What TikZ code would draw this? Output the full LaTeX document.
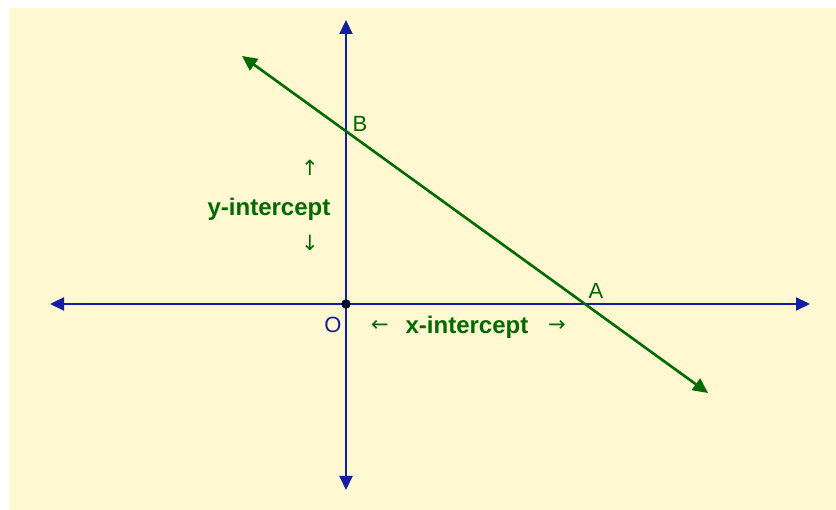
\documentclass[tikz,border=0pt]{standalone}
\usepackage{xcolor}
\usepackage{tikz}
\usepackage{fontspec}
\setmainfont{Liberation Sans}
\newfontfamily\arrowfont{DejaVu Sans}
\usetikzlibrary{arrows.meta}
\definecolor{paperYellow}{RGB}{255, 248, 208}
\definecolor{axisBlue}{RGB}{20, 30, 160}
\definecolor{lineGreen}{RGB}{0, 105, 0}

\begin{document}
\begin{tikzpicture}[x=1pt, y=1pt,
    axis/.style={axisBlue, line width=2.2pt, {Triangle[length=14pt,width=13pt]}-{Triangle[length=14pt,width=13pt]}},
    slant/.style={lineGreen, line width=2.6pt, {Triangle[length=15pt,width=14pt]}-{Triangle[length=15pt,width=14pt]}},
    ptlabel/.style={font=\fontsize{22}{24}\selectfont},
    intlabel/.style={lineGreen, font=\fontsize{24}{27}\selectfont\bfseries},
    tick/.style={lineGreen, font=\fontsize{21}{23}\selectfont\arrowfont}]
            \useasboundingbox (0,0) rectangle (836,510);
            \fill[paperYellow] (9,0) rectangle (836,502);

            % Axes
            \coordinate (xl) at (50,206);
            \coordinate (xr) at (810,206);
            \coordinate (yt) at (346,490);
            \coordinate (yb) at (346,20);
            \draw[axis] (xl) -- (xr);
            \draw[axis] (yb) -- (yt);

            % Origin
            \coordinate (O) at (346,206);
            \filldraw[black!70!axisBlue] (O) circle (4.5pt);
            \node[ptlabel, axisBlue] (Olab) at (333,185) {O};

            % Line
            \coordinate (p) at (242,454);
            \coordinate (q) at (708,117);
            \draw[slant] (p) -- (q);

            % Intercepts
            \node[ptlabel, lineGreen] (Blab) at (360,386) {B};
            \node[ptlabel, lineGreen] (Alab) at (596,219) {A};

            \node[intlabel] (xint) at (467,183) {x-intercept};
            \node[tick] (xlarr) at (380,184) {←};
            \node[tick] (xrarr) at (557,184) {→};

            \node[intlabel] (yint) at (269,301) {y-intercept};
            \node[tick] (yuarr) at (310,342) {↑};
            \node[tick] (ydarr) at (310,267) {↓};
        \end{tikzpicture}
\end{document}
